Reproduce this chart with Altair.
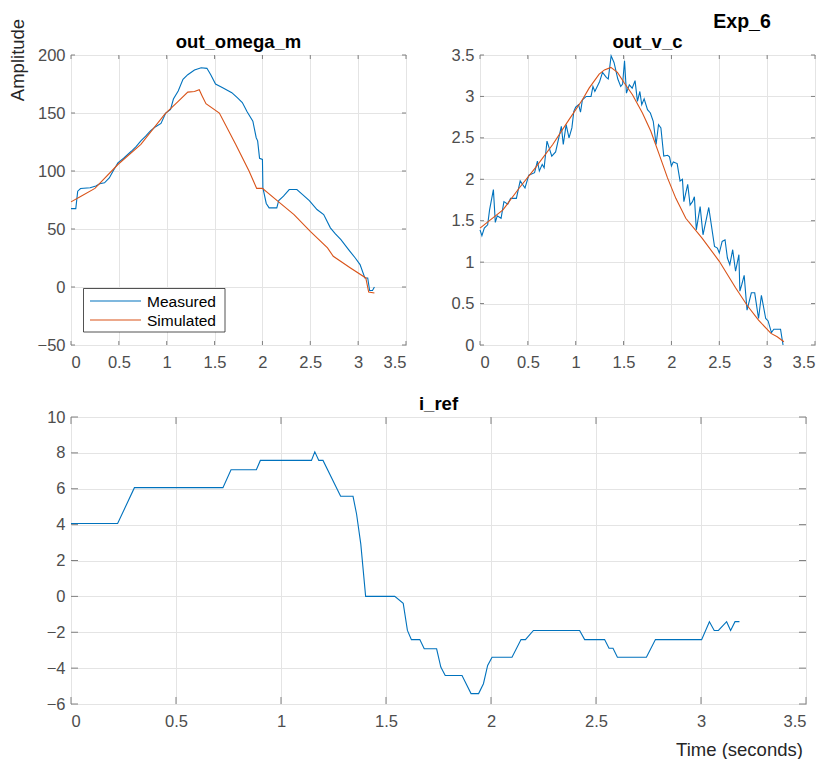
import altair as alt
import pandas as pd

# ---------------- data ----------------
# out_omega_m : measured
om_meas_t = [0, 0.05, 0.07, 0.10, 0.20, 0.26, 0.30, 0.35, 0.40, 0.44, 0.49, 0.55, 0.63, 0.68,
             0.73, 0.78, 0.83, 0.88, 0.94, 0.99, 1.04, 1.07, 1.12, 1.17, 1.22, 1.29, 1.36, 1.42,
             1.46, 1.51, 1.58, 1.68, 1.74, 1.79, 1.84, 1.90, 1.935, 1.95, 1.97, 2.00, 2.005,
             2.04, 2.07, 2.15, 2.17, 2.22, 2.28, 2.36, 2.42, 2.49, 2.57, 2.64, 2.71, 2.76, 2.82,
             2.90, 2.97, 3.02, 3.07, 3.10, 3.12, 3.15, 3.17]
om_meas_v = [67.6, 67.6, 82.6, 84.9, 85.5, 87, 89, 89.8, 94, 100, 107, 111, 117, 121,
             126, 130, 134.5, 138, 141, 150, 153, 162, 169, 179, 183, 187, 189, 188.5,
             183, 175, 172, 167.5, 163, 159, 151, 143, 128.7, 126, 111, 110, 85.5,
             72, 68.2, 68.2, 74.5, 78.3, 84, 84, 79.7, 74.5, 66.8, 62.4, 51, 46, 40.8,
             32.2, 25, 19.3, 7.8, 7.8, -3, -3, 0]
# out_omega_m : simulated
om_sim_t = [0, 0.10, 0.25, 0.49, 0.73, 0.98, 1.12, 1.22, 1.29, 1.34, 1.37, 1.41, 1.55, 1.72,
            1.86, 1.94, 2.00, 2.16, 2.33, 2.50, 2.68, 2.74, 2.92, 3.08, 3.11, 3.17]
om_sim_v = [73.4, 78, 85, 105.6, 123, 149, 160, 168, 168.5, 170, 164.7, 158, 150, 123,
            100, 85, 85, 74, 62.4, 48, 33.7, 26.5, 16.4, 7.8, -4.3, -5.2]

# out_v_c : measured
vc_meas_t = [0, 0.02, 0.045, 0.08, 0.10, 0.14, 0.16, 0.18, 0.22, 0.25, 0.29, 0.32, 0.38, 0.42,
             0.47, 0.51, 0.57, 0.60, 0.62, 0.65, 0.67, 0.70, 0.75, 0.79, 0.85, 0.87, 0.90, 0.93,
             0.96, 0.98, 1.00, 1.03, 1.05, 1.07, 1.11, 1.16, 1.18, 1.20, 1.25, 1.28, 1.32, 1.34,
             1.37, 1.40, 1.44, 1.47, 1.49, 1.51, 1.53, 1.56, 1.59, 1.62, 1.645, 1.67, 1.69, 1.715,
             1.75, 1.78, 1.81, 1.84, 1.865, 1.89, 1.92, 1.96, 1.98, 2.00, 2.02, 2.06, 2.09, 2.115,
             2.13, 2.17, 2.195, 2.22, 2.24, 2.26, 2.30, 2.33, 2.37, 2.39, 2.45, 2.48, 2.50, 2.53,
             2.56, 2.585, 2.61, 2.64, 2.67, 2.705, 2.715, 2.735, 2.76, 2.79, 2.835, 2.87, 2.91,
             2.94, 2.985, 3.01, 3.045, 3.07, 3.14, 3.166]
vc_meas_v = [1.39, 1.32, 1.41, 1.45, 1.63, 1.875, 1.48, 1.56, 1.53, 1.73, 1.70, 1.77, 1.77, 1.98,
             1.895, 2.05, 2.08, 2.22, 2.10, 2.18, 2.14, 2.46, 2.28, 2.33, 2.64, 2.42, 2.66, 2.50,
             2.62, 2.82, 2.87, 2.90, 2.81, 2.96, 3.00, 3.00, 3.12, 3.06, 3.18, 3.29, 3.23, 3.21,
             3.49, 3.41, 3.21, 3.12, 3.15, 3.43, 3.04, 3.14, 3.10, 3.19, 2.94, 3.06, 2.90, 2.97,
             2.84, 2.80, 2.70, 2.42, 2.66, 2.62, 2.28, 2.29, 2.27, 2.16, 2.21, 2.19, 1.98, 2.00,
             1.73, 1.94, 1.69, 1.73, 1.79, 1.39, 1.67, 1.33, 1.55, 1.66, 1.19, 1.17, 1.11, 1.25,
             1.27, 1.05, 0.97, 1.15, 0.89, 1.09, 0.65, 0.73, 0.84, 0.42, 0.63, 0.63, 0.32,
             0.60, 0.32, 0.29, 0.15, 0.19, 0.19, 0.0]
# out_v_c : simulated
vc_sim_t = [0, 0.24, 0.41, 0.58, 0.76, 0.93, 1.07, 1.14, 1.245, 1.30, 1.367, 1.436, 1.506, 1.593,
            1.697, 1.785, 1.872, 1.958, 2.046, 2.15, 2.32, 2.50, 2.67, 2.79, 2.91, 3.04, 3.105,
            3.175]
vc_sim_v = [1.41, 1.63, 1.895, 2.14, 2.42, 2.72, 2.96, 3.10, 3.27, 3.32, 3.35, 3.29, 3.165, 3.02,
            2.80, 2.58, 2.30, 2.02, 1.77, 1.53, 1.29, 1.01, 0.69, 0.48, 0.30, 0.14, 0.10,
            0.04]

# i_ref
ir_t = [0, 0.222, 0.302, 0.7235, 0.762, 0.8826, 0.9017, 1.145, 1.161, 1.18, 1.20, 1.284, 1.343,
        1.36, 1.38, 1.403, 1.5417, 1.582, 1.602, 1.621, 1.661, 1.682, 1.741, 1.761, 1.782, 1.862,
        1.905, 1.941, 1.964, 1.984, 2.005, 2.10, 2.143, 2.164, 2.202, 2.422, 2.446, 2.541, 2.562,
        2.581, 2.602, 2.74, 2.783, 3.003, 3.04, 3.063, 3.083, 3.122, 3.141, 3.162, 3.183]
ir_v = [4.06, 4.06, 6.06, 6.06, 7.06, 7.06, 7.58, 7.58, 8.06, 7.58, 7.58, 5.58, 5.58,
        4.58, 2.91, 0.0, 0.0, -0.39, -1.9, -2.41, -2.41, -2.92, -2.92, -3.94, -4.41, -4.41,
        -5.42, -5.42, -4.87, -3.85, -3.39, -3.39, -2.41, -2.41, -1.9, -1.9, -2.41, -2.41, -2.89,
        -2.89, -3.39, -3.39, -2.41, -2.41, -1.41, -1.9, -1.9, -1.41, -1.9, -1.41, -1.41]

series_names = ["Measured", "Simulated"]
series_colors = ["#0072BD", "#D95319"]

x_ticks = [0, 0.5, 1, 1.5, 2, 2.5, 3, 3.5]
om_ticks = [-50, 0, 50, 100, 150, 200]
vc_ticks = [0, 0.5, 1, 1.5, 2, 2.5, 3, 3.5]
ir_ticks = [-6, -4, -2, 0, 2, 4, 6, 8, 10]

panel_titles = ["out_omega_m", "out_v_c", "i_ref"]
fig_title = "Exp_6"
y_label = "Amplitude"
x_label = "Time (seconds)"

# ---------------- style ----------------
FONT = "Liberation Sans"
LABEL_COLOR = "#4d4d4d"
GRID = "#e4e4e4"
BOX = "#808080"
TICK_FS = 16.5
LABEL_FS = 18.5
TITLE_FS = 18.5
FMT = "~f"


def frame(t, v, name):
    return pd.DataFrame({"t": t, "v": v, "series": name, "order": range(len(t))})


df_om = pd.concat([frame(om_meas_t, om_meas_v, "Measured"), frame(om_sim_t, om_sim_v, "Simulated")])
df_vc = pd.concat([frame(vc_meas_t, vc_meas_v, "Measured"), frame(vc_sim_t, vc_sim_v, "Simulated")])
df_ir = frame(ir_t, ir_v, "Measured")

color_scale = alt.Scale(domain=series_names, range=series_colors)
xscale = alt.Scale(domain=[0, 3.5], nice=False)


def xenc(axis_kw=None):
    kw = dict(values=x_ticks, format=FMT, title=None)
    if axis_kw:
        kw.update(axis_kw)
    return alt.X("t:Q", scale=xscale, axis=alt.Axis(**kw))


def yenc(dom, vals):
    return alt.Y("v:Q", scale=alt.Scale(domain=dom, nice=False),
                 axis=alt.Axis(values=vals, format=FMT, title=None))


def tick_layers(dom, yvals, W, H, L, xaxis_kw=None):
    dx = pd.DataFrame({"t": x_ticks})
    dy = pd.DataFrame({"v": yvals})
    base_x = alt.Chart(dx).mark_rule(color=BOX, strokeWidth=1)
    base_y = alt.Chart(dy).mark_rule(color=BOX, strokeWidth=1)
    return [
        base_x.encode(x=xenc(xaxis_kw), y=alt.value(H), y2=alt.value(H - L)),
        base_x.encode(x=xenc(xaxis_kw), y=alt.value(0), y2=alt.value(L)),
        base_y.encode(y=yenc(dom, yvals), x=alt.value(0), x2=alt.value(L)),
        base_y.encode(y=yenc(dom, yvals), x=alt.value(W), x2=alt.value(W - L)),
    ]


def title_text(label, W, size=TITLE_FS, x=None, y=-7):
    return alt.Chart(pd.DataFrame({"label": [label]})).mark_text(
        align="center", baseline="alphabetic", font=FONT, fontSize=size, fontWeight="bold",
        color="#000"
    ).encode(text="label:N", x=alt.value(W / 2 if x is None else x), y=alt.value(y))


W1, H1 = 335, 290
W3, H3 = 735, 287

# ---- top-left ----
lines_om = alt.Chart(df_om).mark_line(strokeWidth=1.1).encode(
    x=xenc(), y=yenc([-50, 200], om_ticks),
    color=alt.Color("series:N", scale=color_scale, legend=None),
    order="order:Q",
)

legend_layers = []
for i, (name, col) in enumerate(zip(series_names, series_colors)):
    d = pd.DataFrame({"label": [name]})
    yy = 246 + 19 * i
    legend_layers.append(alt.Chart(d).mark_rule(color=col, strokeWidth=1.2).encode(
        x=alt.value(19), x2=alt.value(70), y=alt.value(yy)))
    legend_layers.append(alt.Chart(d).mark_text(align="left", baseline="middle", font=FONT,
                                                fontSize=15.5, color="#000").encode(
        text="label:N", x=alt.value(76), y=alt.value(yy + 1)))
legend_box = alt.Chart(pd.DataFrame({"label": ["box"]})).mark_rect(
    fill="white", stroke="#262626", strokeWidth=0.8).encode(
    x=alt.value(12.5), x2=alt.value(154), y=alt.value(233.5), y2=alt.value(277))

amp_text = alt.Chart(pd.DataFrame({"label": [y_label]})).mark_text(
    angle=270, align="center", baseline="middle", font=FONT, fontSize=LABEL_FS, color="#262626"
).encode(text="label:N", x=alt.value(-53), y=alt.value(5))

top_left = alt.layer(
    lines_om, *tick_layers([-50, 200], om_ticks, W1, H1, 4), legend_box, *legend_layers,
    amp_text, title_text(panel_titles[0], W1)
).properties(width=W1, height=H1)

# ---- top-right ----
lines_vc = alt.Chart(df_vc).mark_line(strokeWidth=1.1).encode(
    x=xenc(), y=yenc([0, 3.5], vc_ticks),
    color=alt.Color("series:N", scale=color_scale, legend=None),
    order="order:Q",
)
top_right = alt.layer(
    lines_vc, *tick_layers([0, 3.5], vc_ticks, W1, H1, 4),
    title_text(panel_titles[1], W1),
    title_text(fig_title, W1, size=19.5, x=262, y=-27),
).properties(width=W1, height=H1)

# ---- bottom ----
bx_kw = dict(title=x_label, titleX=668, titleY=36, titleAlign="center", titleBaseline="top",
             titleFontSize=LABEL_FS, titleFontWeight="normal", titleColor="#262626")
lines_ir = alt.Chart(df_ir).mark_line(strokeWidth=1.1, color="#0072BD").encode(
    x=xenc(bx_kw), y=yenc([-6, 10], ir_ticks), order="order:Q",
)
bottom = alt.layer(
    lines_ir, *tick_layers([-6, 10], ir_ticks, W3, H3, 7, bx_kw),
    title_text(panel_titles[2], W3),
).properties(width=W3, height=H3)

chart = alt.vconcat(
    alt.hconcat(top_left, top_right, spacing=43),
    bottom,
    spacing=23,
).properties(
    padding={"left": 0, "top": 3, "right": 0, "bottom": 0},
).configure(font=FONT).configure_axis(
    labelFont=FONT, labelFontSize=TICK_FS, labelColor=LABEL_COLOR, gridColor=GRID,
    grid=True, domain=False, ticks=False, titleFont=FONT,
).configure_axisX(labelPadding=9).configure_axisY(labelPadding=6).configure_view(
    stroke=BOX, strokeWidth=1
)

chart.save("out.html", embed_options={"renderer": "svg", "actions": False})
